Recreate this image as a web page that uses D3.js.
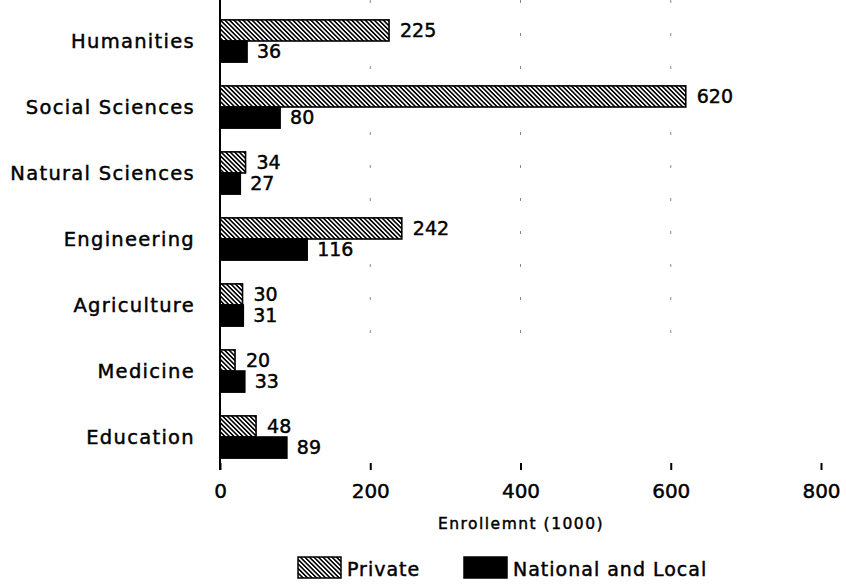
<!DOCTYPE html>
<html><head><meta charset="utf-8">
<script src="https://cdn.jsdelivr.net/npm/d3@7"></script>
<style>body{margin:0;background:#fff}svg{display:block}text{font-family:"DejaVu Sans",sans-serif;fill:#000;stroke:#000;stroke-width:0.45px}</style>
</head><body>
<script>
const categories = ["Humanities","Social Sciences","Natural Sciences","Engineering","Agriculture","Medicine","Education"];
const privateVals = [225,620,34,242,30,20,48];
const nationalVals = [36,80,27,116,31,33,89];
const seriesNames = ["Private","National and Local"];
const xTicks = [0,200,400,600,800];

const W=846,H=586;
const svg=d3.select("body").append("svg").attr("width",W).attr("height",H);
const defs=svg.append("defs");
const pat=defs.append("pattern").attr("id","hatch").attr("patternUnits","userSpaceOnUse")
  .attr("width",3.2).attr("height",3.2).attr("patternTransform","rotate(-45)");
pat.append("rect").attr("width",3.2).attr("height",3.2).attr("fill","#fff");
pat.append("line").attr("x1",0.8).attr("y1",0).attr("x2",0.8).attr("y2",3.2).attr("stroke","#000").attr("stroke-width",1.6);

const x=d3.scaleLinear().domain([0,800]).range([220,821]);
const y=d3.scaleBand().domain(categories).range([8,470]).paddingInner(0.36).paddingOuter(0.18);
const sub=d3.scaleBand().domain(seriesNames).range([0,y.bandwidth()]);

// faint grid dots
[200,400,600].forEach(v=>{
  svg.append("line").attr("x1",x(v)).attr("x2",x(v)).attr("y1",0).attr("y2",350)
    .attr("stroke","#888").attr("stroke-width",1).attr("stroke-dasharray","3,30");
});

const series=[privateVals,nationalVals];
categories.forEach((c,i)=>{
  series.forEach((vals,s)=>{
    const y0=y(c)+sub(seriesNames[s]);
    svg.append("rect").attr("x",x(0)).attr("y",y0).attr("width",x(vals[i])-x(0)).attr("height",sub.bandwidth())
      .attr("fill",s===0?"url(#hatch)":"#000").attr("stroke","#000").attr("stroke-width",1.6);
    svg.append("text").attr("x",x(vals[i])+(s===0?11:10)).attr("y",y0+sub.bandwidth()/2).attr("dy","0.36em")
      .attr("font-size",19).text(vals[i]);
  });
  svg.append("text").attr("x",195).attr("y",y(c)+y.bandwidth()/2).attr("dy","0.36em")
    .attr("text-anchor","end").attr("font-size",19.5).attr("letter-spacing",1.3).text(c);
});

// axis line
svg.append("line").attr("x1",x(0)).attr("x2",x(0)).attr("y1",0).attr("y2",470).attr("stroke","#000").attr("stroke-width",2);
const xa=d3.axisBottom(x).tickValues(xTicks).tickSize(7).tickPadding(14).tickFormat(d3.format("d"));
const g=svg.append("g").attr("transform","translate(0,463)").call(xa);
g.select(".domain").remove();
g.selectAll(".tick line").attr("stroke","#000").attr("stroke-width",2);
g.selectAll(".tick text").attr("font-size",20).attr("font-family","DejaVu Sans");

svg.append("text").attr("x",521).attr("y",529).attr("text-anchor","middle").attr("font-size",15.5)
  .attr("letter-spacing",1.5).text("Enrollemnt (1000)");

// legend
const leg=[{n:seriesNames[0],f:"url(#hatch)",x:298},{n:seriesNames[1],f:"#000",x:464}];
leg.forEach(l=>{
  svg.append("rect").attr("x",l.x).attr("y",557).attr("width",43).attr("height",21).attr("fill",l.f).attr("stroke","#000").attr("stroke-width",1.5);
  svg.append("text").attr("x",l.x+49).attr("y",569).attr("dy","0.36em").attr("font-size",19).attr("letter-spacing",1).text(l.n);
});
</script>
</body></html>
